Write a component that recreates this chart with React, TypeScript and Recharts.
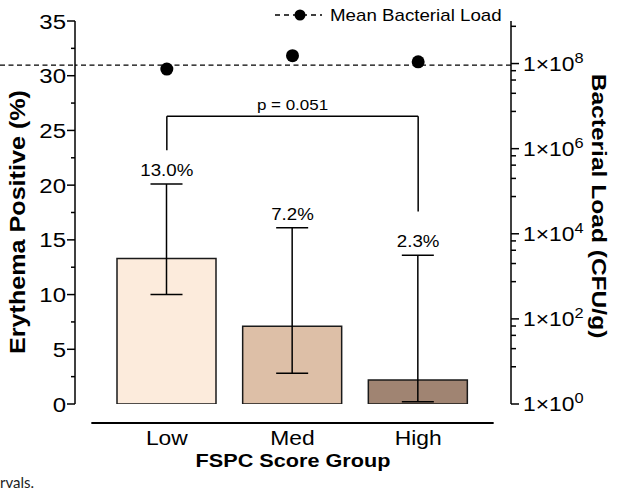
import React from 'react';
import {
  ComposedChart, Bar, Cell, ErrorBar, Line, LabelList, XAxis, YAxis, ReferenceLine,
} from 'recharts';

// FSPC groups
const categories = ['Low', 'Med', 'High'];
const erythemaPct = [13.3, 7.1, 2.2];
const ciLower = [10.0, 2.8, 0.2];
const ciUpper = [20.1, 16.1, 13.6];
const pctLabels = ['13.0%', '7.2%', '2.3%'];
const bacterialLoad = [7.4e7, 1.53e8, 1.1e8];
const meanLoad = 9.2e7;
const barColors = ['#fcebdc', '#ddbfa7', '#a08472'];

const leftTicks = [0, 2.5, 5, 7.5, 10, 12.5, 15, 17.5, 20, 22.5, 25, 27.5, 30, 32.5, 35];
const rightMajor = [1, 1e2, 1e4, 1e6, 1e8];
const rightMinorMult = [7.5, 20, 41, 68];

// bracket for p-value
const bracketY = 26.3;
const bracketLeftEnd = 23.2;
const bracketRightEnd = 17.6;
const pText = 'p = 0.051';

const rightTicks: number[] = [];
rightMajor.forEach((m) => {
  rightTicks.push(m);
  rightMinorMult.forEach((k) => {
    const v = m * k;
    if (v < 1e9) rightTicks.push(v);
  });
});
rightTicks.sort((a, b) => a - b);

const data = categories.map((name, i) => ({
  name,
  erythema: erythemaPct[i],
  err: [erythemaPct[i] - ciLower[i], ciUpper[i] - erythemaPct[i]],
  ciHigh: ciUpper[i],
  label: pctLabels[i],
  load: bacterialLoad[i],
}));

const FONT = 'Liberation Sans, Arial, Helvetica, sans-serif';
const SX = 1.17;

type TProps = {
  x: number; y: number; size: number; bold?: boolean;
  anchor?: 'start' | 'middle' | 'end'; rotate?: number; children: React.ReactNode;
};
const T = ({ x, y, size, bold, anchor = 'start', rotate, children }: TProps) => (
  <text
    transform={`translate(${x},${y})${rotate ? ` rotate(${rotate})` : ''} scale(${SX},1)`}
    textAnchor={anchor}
    fontSize={size}
    fontWeight={bold ? 700 : 400}
    fontFamily={FONT}
    fill="#000"
  >
    {children}
  </text>
);

const LeftTick = (props: any) => {
  const { x, y, payload } = props;
  const major = payload.value % 5 === 0;
  return (
    <g>
      <line x1={x - (major ? 8 : 4)} x2={x} y1={y} y2={y} stroke="#000" strokeWidth={1.5} />
      {major && <T x={x - 9} y={y + 7.5} size={20.5} anchor="end">{payload.value}</T>}
    </g>
  );
};

const RightTick = (props: any) => {
  const { x, y, payload } = props;
  const exp = Math.log10(payload.value);
  const major = Math.abs(exp - Math.round(exp)) < 1e-6 && Math.round(exp) % 2 === 0;
  return (
    <g>
      <line x1={x} x2={x + (major ? 8 : 5)} y1={y} y2={y} stroke="#000" strokeWidth={1.5} />
      {major && (
        <T x={x + 12} y={y + 7} size={19.5}>
          1×10<tspan dy={-8} fontSize={14}>{Math.round(exp)}</tspan>
        </T>
      )}
    </g>
  );
};

const XTick = (props: any) => {
  const { x, y, payload } = props;
  return (
    <g>
      <line x1={x - 75.5} x2={x + 75.5} y1={y + 19} y2={y + 19} stroke="#000" strokeWidth={2} />
      <T x={x} y={y + 41} size={19.5} anchor="middle">{payload.value}</T>
    </g>
  );
};

const App: React.FC = () => {
  return (
    <div style={{ position: 'absolute', left: 0, top: 0, width: 620, height: 491, background: '#fff' }}>
      <ComposedChart width={620} height={491} data={data} margin={{ top: 21, right: 0, bottom: 0, left: 0 }}>
        <XAxis
          dataKey="name"
          height={87}
          padding={{ left: 29, right: 30 }}
          axisLine={false}
          tickLine={false}
          tickSize={0}
          tickMargin={0}
          interval={0}
          tick={<XTick />}
          label={{
            content: (p: any) => {
              const vb = p.viewBox;
              return <T x={vb.x + vb.width / 2} y={vb.y + 63} size={18.5} bold anchor="middle">FSPC Score Group</T>;
            },
          }}
        />
        <YAxis
          yAxisId="left"
          width={75}
          type="number"
          domain={[0, 35]}
          ticks={leftTicks}
          interval={0}
          allowDataOverflow
          axisLine={{ stroke: '#000', strokeWidth: 1.5 }}
          tickLine={false}
          tickSize={0}
          tickMargin={0}
          tick={<LeftTick />}
          label={{
            content: () => <T x={25} y={222} size={21.5} bold anchor="middle" rotate={-90}>Erythema Positive (%)</T>,
          }}
        />
        <YAxis
          yAxisId="right"
          orientation="right"
          width={109}
          type="number"
          scale="log"
          domain={[1, 1e9]}
          ticks={rightTicks}
          interval={0}
          allowDataOverflow
          axisLine={{ stroke: '#000', strokeWidth: 1.5 }}
          tickLine={false}
          tickSize={0}
          tickMargin={0}
          tick={<RightTick />}
          label={{
            content: () => <T x={592} y={206} size={21} bold anchor="middle" rotate={90}>Bacterial Load (CFU/g)</T>,
          }}
        />
        <ReferenceLine
          yAxisId="right"
          y={meanLoad}
          stroke="#000"
          strokeWidth={1.3}
          strokeDasharray="5 3.5"
          label={{
            content: (p: any) => {
              const vb = p.viewBox;
              return <line x1={0} x2={vb.x} y1={vb.y} y2={vb.y} stroke="#000" strokeWidth={1.3} strokeDasharray="5 3.5" />;
            },
          }}
        />
        <Bar yAxisId="left" dataKey="erythema" barSize={99} stroke="#1a1a1a" strokeWidth={1.5} isAnimationActive={false}>
          {data.map((d, i) => (
            <Cell key={d.name} fill={barColors[i]} />
          ))}
          <ErrorBar dataKey="err" width={16} stroke="#000" strokeWidth={1.5} direction="y" isAnimationActive={false} />
        </Bar>
        <Line yAxisId="left" dataKey="ciHigh" stroke="none" dot={false} activeDot={false} isAnimationActive={false}>
          <LabelList
            dataKey="label"
            content={(p: any) => <T x={p.x} y={p.y - 8} size={16} anchor="middle">{p.value}</T>}
          />
        </Line>
        <Line
          yAxisId="right"
          dataKey="load"
          stroke="none"
          dot={{ r: 6.5, fill: '#000', stroke: '#000', strokeWidth: 0 }}
          activeDot={false}
          isAnimationActive={false}
        />
        <ReferenceLine yAxisId="left" segment={[{ x: 'Low', y: bracketLeftEnd }, { x: 'Low', y: bracketY }]} stroke="#000" strokeWidth={1.5} />
        <ReferenceLine yAxisId="left" segment={[{ x: 'High', y: bracketRightEnd }, { x: 'High', y: bracketY }]} stroke="#000" strokeWidth={1.5} />
        <ReferenceLine
          yAxisId="left"
          segment={[{ x: 'Low', y: bracketY }, { x: 'High', y: bracketY }]}
          stroke="#000"
          strokeWidth={1.5}
          label={{
            content: (p: any) => {
              const vb = p.viewBox;
              return <T x={vb.x + vb.width / 2} y={vb.y - 6} size={14.5} anchor="middle">{pText}</T>;
            },
          }}
        />
        <g>
          <line x1={275} x2={322} y1={15} y2={15} stroke="#000" strokeWidth={1.3} strokeDasharray="5 4" />
          <circle cx={300} cy={15} r={5.5} fill="#000" />
          <T x={330} y={21} size={16}>Mean Bacterial Load</T>
        </g>
        <text x={0} y={488} fontFamily="Lato, sans-serif" fontSize={15} fill="#222">rvals.</text>
      </ComposedChart>
    </div>
  );
};

export default App;
